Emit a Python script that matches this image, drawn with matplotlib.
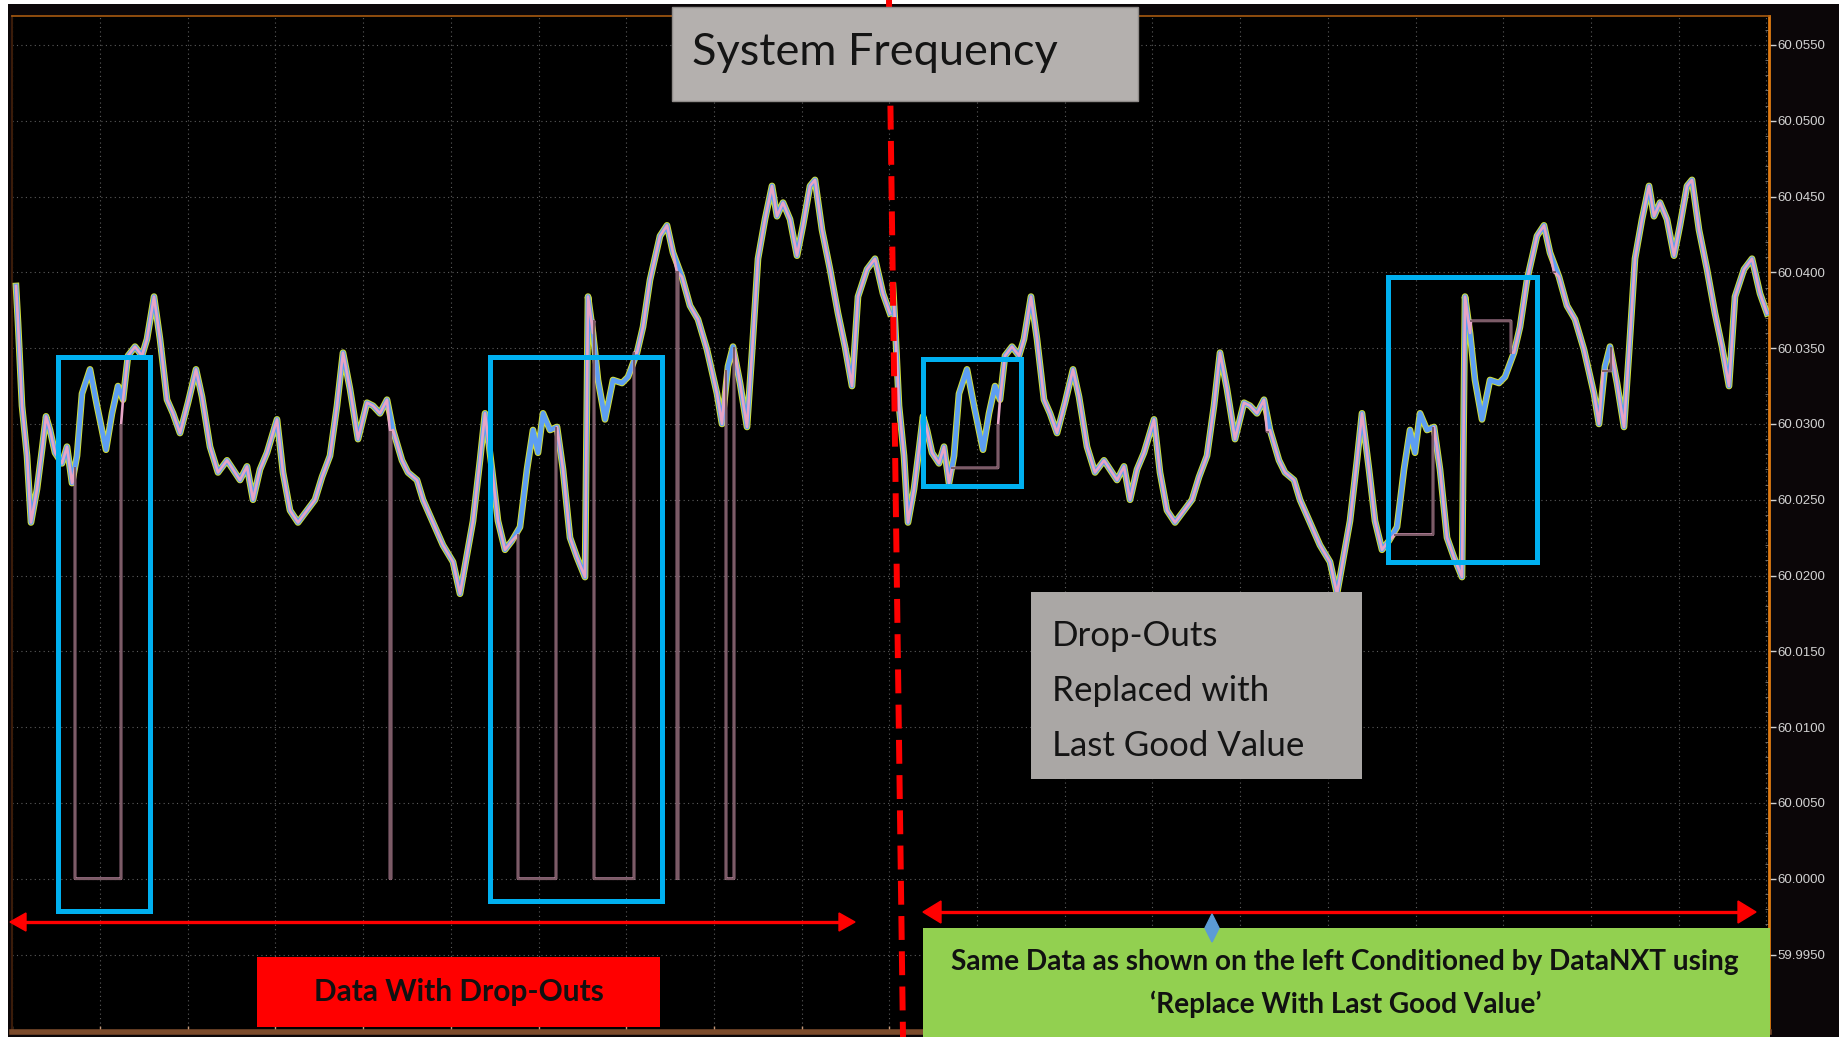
import numpy as np
import matplotlib
matplotlib.use("Agg")
import matplotlib.pyplot as plt
from matplotlib.patches import Rectangle, Polygon
from matplotlib.ticker import MultipleLocator

W, H = 1839, 1037

# ---------------- data ----------------
# sample time (arbitrary units) and system frequency (Hz)
sample_t = [2, 4, 8, 13, 17, 23, 28, 32, 36, 41, 48, 53, 58, 63, 68, 76, 83, 92, 98, 104,
            109, 114, 121, 128, 133, 140, 146, 153, 159, 166, 174, 182, 188, 196, 204, 213,
            219, 226, 233, 239, 246, 253, 263, 269, 276, 284, 293, 301, 308, 316, 323, 329,
            336, 344, 353, 359, 366, 373, 379, 388, 394, 403, 409, 419, 429, 439, 446, 453,
            459, 466, 471, 478, 484, 491, 498, 506, 513, 519, 524, 529, 536, 543, 549, 556,
            563, 571, 574, 579, 584, 591, 599, 608, 614, 623, 629, 636, 646, 653, 659, 668,
            676, 684, 693, 703, 708, 714, 719, 726, 733, 738, 744, 751, 758, 763, 769, 776,
            783, 789, 796, 801, 808, 816, 824, 831, 838, 844, 853, 861, 869, 876]
freq_hz = [60.0391, 60.0367, 60.0312, 60.0279, 60.0235, 60.0257, 60.0283, 60.0305, 60.0296,
           60.0281, 60.0274, 60.0285, 60.0261, 60.0279, 60.0320, 60.0336, 60.0312, 60.0283,
           60.0307, 60.0325, 60.0316, 60.0345, 60.0351, 60.0345, 60.0356, 60.0384, 60.0356,
           60.0316, 60.0307, 60.0294, 60.0314, 60.0336, 60.0318, 60.0285, 60.0268, 60.0276,
           60.0270, 60.0263, 60.0272, 60.0250, 60.0270, 60.0281, 60.0303, 60.0268, 60.0243,
           60.0235, 60.0243, 60.0250, 60.0265, 60.0279, 60.0312, 60.0347, 60.0323, 60.0290,
           60.0314, 60.0312, 60.0307, 60.0316, 60.0296, 60.0276, 60.0268, 60.0263, 60.0250,
           60.0235, 60.0220, 60.0209, 60.0188, 60.0214, 60.0236, 60.0276, 60.0307, 60.0270,
           60.0236, 60.0217, 60.0223, 60.0232, 60.0270, 60.0296, 60.0281, 60.0307, 60.0296,
           60.0298, 60.0270, 60.0225, 60.0212, 60.0199, 60.0384, 60.0360, 60.0329, 60.0303,
           60.0329, 60.0327, 60.0331, 60.0347, 60.0364, 60.0395, 60.0424, 60.0431, 60.0413,
           60.0397, 60.0378, 60.0369, 60.0349, 60.0320, 60.0300, 60.0338, 60.0351, 60.0327,
           60.0298, 60.0347, 60.0409, 60.0435, 60.0457, 60.0437, 60.0446, 60.0435, 60.0411,
           60.0431, 60.0457, 60.0461, 60.0428, 60.0402, 60.0373, 60.0351, 60.0325, 60.0384,
           60.0402, 60.0409, 60.0386, 60.0373]

# drop-out events in the raw tag
dropout_start = [61, 376, 504, 580, 663, 712]
dropout_end = [107, 377, 542, 620, 664, 720]
last_good = [60.0271, 60.0295, 60.0227, 60.0368, 60.0400, 60.0335]
resume_val = [60.0299, 60.0295, 60.0297, 60.0347, 60.0400, 60.0350]
dropout_floor = 60.0000

right_copy_offset = 877          # time offset of the conditioned copy
y_ticks = [59.9950, 60.0000, 60.0050, 60.0100, 60.0150, 60.0200, 60.0250,
           60.0300, 60.0350, 60.0400, 60.0450, 60.0500, 60.0550]
y_tick_labels = ["59.9950", "60.0000", "60.0050", "60.0100", "60.0150", "60.0200",
                 "60.0250", "60.0300", "60.0350", "60.0400", "60.0450", "60.0500", "60.0550"]

title_text = "System Frequency"
note_lines = ["Drop-Outs", "Replaced with", "Last Good Value"]
left_label = "Data With Drop-Outs"
right_label = ["Same Data as shown on the left Conditioned by DataNXT using",
               "\u2018Replace With Last Good Value\u2019"]

FONT = ["Lato", "DejaVu Sans"]

# ---------------- figure ----------------
fig = plt.figure(figsize=(W / 100, H / 100), dpi=100, facecolor="white")
fig.patches.append(Rectangle((8 / W, 0), 1, 1 - 4 / H, transform=fig.transFigure,
                             facecolor="#0b0608", edgecolor="none", zorder=-5))

ax = fig.add_axes([12 / W, 5 / H, (1769 - 12) / W, (1032 - 16) / H])
ax.set_facecolor("black")
ax.set_xlim(-2, 1755)
ax.set_ylim(59.98989, 60.05691)


def pink_path(floor_mode):
    pts = [(ti, fi) for ti, fi in zip(sample_t, freq_hz)
           if not any(s < ti < e for s, e in zip(dropout_start, dropout_end))]
    drops = []
    for s, e, lg, rv in zip(dropout_start, dropout_end, last_good, resume_val):
        low = dropout_floor if floor_mode else lg
        seg = [(s, lg), (s, low), (e, low), (e, rv)]
        pts += seg
        drops.append(seg)
    pts.sort(key=lambda p: p[0])
    return pts, drops


t = np.array(sample_t, dtype=float)
f = np.array(freq_hz)
for off, floor_mode in ((0, True), (right_copy_offset, False)):
    ax.plot(t + off, f, color="#d2e03a", lw=4.8, solid_joinstyle="round", zorder=3)
    ax.plot(t + off, f, color="#5d9ef2", lw=3.4, solid_joinstyle="round", zorder=4)
    pts, drops = pink_path(floor_mode)
    px = np.array([p[0] for p in pts]) + off
    py = np.array([p[1] for p in pts])
    ax.plot(px, py, color="#e7a5c6", lw=1.9, solid_joinstyle="round", zorder=5)
    for seg in drops:
        sx = np.array([p[0] for p in seg]) + off
        sy = np.array([p[1] for p in seg])
        ax.plot(sx, sy, color="#7a5a65", lw=1.4, zorder=6)

# axes styling
ax.spines["right"].set_color("#e07b12")
ax.spines["right"].set_linewidth(2.0)
ax.spines["top"].set_color("#a85a10")
ax.spines["top"].set_linewidth(1.2)
ax.spines["left"].set_color("#3a1c0a")
ax.spines["left"].set_linewidth(1.5)
ax.spines["bottom"].set_color("#7d4c2c")
ax.spines["bottom"].set_linewidth(4)

ax.yaxis.tick_right()
ax.set_yticks(y_ticks)
ax.set_yticklabels(y_tick_labels, fontfamily="Liberation Sans")
ax.tick_params(axis="y", which="major", colors="#d2d2d2", labelsize=9.5, length=5,
               width=1, pad=1, direction="out")
ax.yaxis.set_minor_locator(MultipleLocator(0.001))
ax.tick_params(axis="y", which="minor", length=3, color="#7a7a7a", direction="in")
grid_t = np.arange(86 - 87.7, 1760, 87.7)
ax.set_xticks(grid_t)
ax.set_xticklabels([])
ax.tick_params(axis="x", length=4, direction="in", color="#c59a7a", width=1)
ax.grid(True, color="#5c5c5c", linestyle=(0, (1, 3)), lw=0.8)
ax.set_axisbelow(True)

# ---------------- annotation layer (pixel coordinates) ----------------
ov = fig.add_axes([0, 0, 1, 1], zorder=5)
ov.set_xlim(0, W)
ov.set_ylim(H, 0)
ov.axis("off")
ov.patch.set_alpha(0)

renderer = fig.canvas.get_renderer()


def fit_text(x, y, s, width, size0=20, **kw):
    txt = ov.text(x, y, s, fontsize=size0, family=FONT, **kw)
    bb = txt.get_window_extent(renderer=renderer)
    txt.set_fontsize(size0 * width / bb.width)
    return txt


# red dashed divider
ov.plot([889, 903], [0, 1037], color="#ff0000", lw=4.3, linestyle=(0, (4, 1.9)),
        dash_capstyle="butt", zorder=2)

# blue highlight boxes
for (x0, y0, x1, y1) in [(58, 357, 150, 911), (490, 357, 662, 901),
                         (923.5, 359, 1021, 486), (1388, 277, 1537.5, 562)]:
    ov.add_patch(Rectangle((x0, y0), x1 - x0, y1 - y0, fill=False,
                           edgecolor="#00b0f0", lw=3.6, zorder=3))

# double headed red arrows
def red_arrow(x0, x1, y, hl, hh, lw=2.4):
    ov.plot([x0 + hl * 0.8, x1 - hl * 0.8], [y, y], color="#ff0000", lw=lw, zorder=4,
            solid_capstyle="butt")
    ov.add_patch(Polygon([(x0, y), (x0 + hl, y - hh / 2), (x0 + hl, y + hh / 2)],
                         closed=True, color="#ff0000", zorder=4))
    ov.add_patch(Polygon([(x1, y), (x1 - hl, y - hh / 2), (x1 - hl, y + hh / 2)],
                         closed=True, color="#ff0000", zorder=4))


red_arrow(10, 855, 922, 16, 18)
red_arrow(923, 1756, 912, 18, 22)

# label boxes
ov.add_patch(Rectangle((257, 957), 403, 70, facecolor="#ff0000", edgecolor="none", zorder=4))
fit_text(459, 992, left_label, 290, ha="center", va="center", fontweight="bold",
         color="#111111", zorder=5)

ov.add_patch(Rectangle((923, 928), 847, 110, facecolor="#92d050", edgecolor="none", zorder=4))
t1 = fit_text(1345, 962, right_label[0], 789, ha="center", va="center", fontweight="bold",
              color="#111111", zorder=5)
ov.text(1346, 1004, right_label[1], fontsize=t1.get_fontsize(), family=FONT, ha="center",
        va="center", fontweight="bold", color="#111111", zorder=5)

# blue diamond marker on arrow
ov.add_patch(Polygon([(1212, 914), (1219, 928), (1212, 942), (1205, 928)], closed=True,
                     color="#5b9bd5", zorder=5))

# title box
ov.add_patch(Rectangle((672, 7), 466, 94, facecolor="#b4b0ae", edgecolor="#8f8b89",
                       lw=1, zorder=6))
fit_text(692, 65, title_text, 367, ha="left", va="baseline", color="#141414", zorder=7)

# note box
ov.add_patch(Rectangle((1031, 592), 331, 187, facecolor="#aaa7a5", edgecolor="none", zorder=6))
nt = fit_text(1052, 756, note_lines[2], 252, ha="left", va="baseline", color="#141414", zorder=7)
for line, yb in zip(note_lines[:2], (646, 701)):
    ov.text(1052, yb, line, fontsize=nt.get_fontsize(), family=FONT, ha="left",
            va="baseline", color="#141414", zorder=7)

fig.savefig("out.png", dpi=100, facecolor=fig.get_facecolor())
